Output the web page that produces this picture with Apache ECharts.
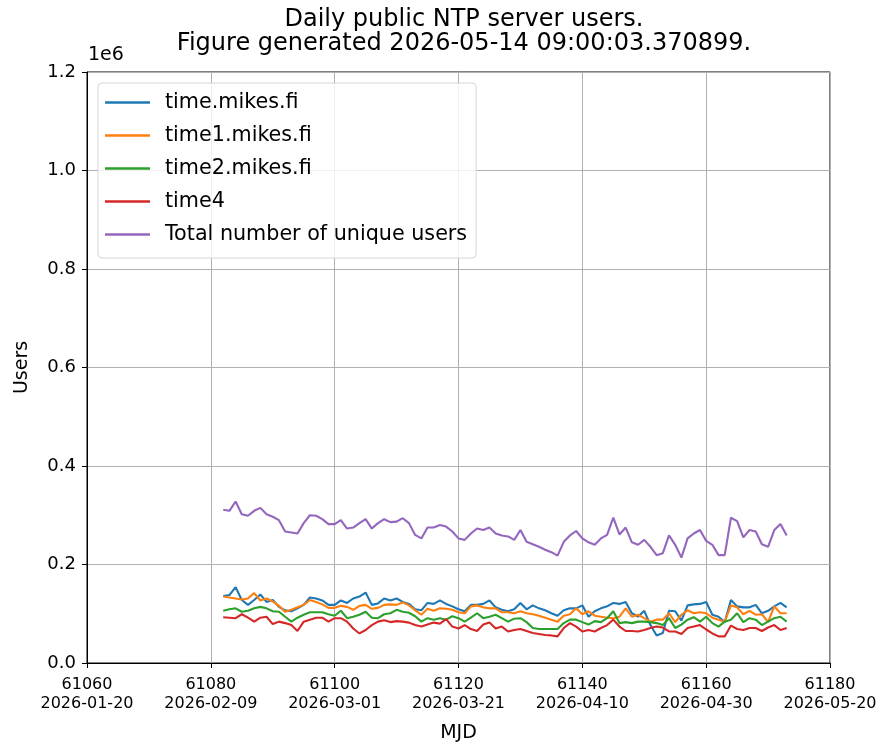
<!DOCTYPE html>
<html>
<head>
<meta charset="utf-8">
<script src="https://cdn.jsdelivr.net/npm/echarts@6/dist/echarts.min.js"></script>
<style>
  html, body { margin: 0; padding: 0; background: #fff; }
  #chart { width: 883px; height: 749px; }
</style>
</head>
<body>
<div id="chart"></div>
<script>
// first day of data (MJD), one value per day, in thousands of users
var startMjd = 61082;

var timeMikes = [
  136,138,154,128,118,128,139,124,128,114,107,105,111,118,133,
  131,127,118,118,127,122,131,135,143,118,121,131,127,131,124,120,
  109,107,122,120,127,120,115,109,105,118,118,120,127,113,108,
  105,109,122,109,117,111,107,101,96,107,111,111,117,94,105,
  111,115,122,120,124,101,94,106,77,56,61,106,105,86,117,119,
  120,124,98,94,83,128,115,113,113,118,101,106,115,122,113
];
var time1Mikes = [
  135,133,131,129,131,142,127,131,125,116,104,108,113,118,128,
  124,119,112,112,116,114,108,116,118,110,112,118,119,118,123,117,
  107,98,110,106,111,110,108,103,101,115,117,113,111,111,103,
  103,101,105,101,99,96,92,88,84,96,99,111,99,105,96,
  94,92,91,94,111,94,98,91,84,88,88,101,83,98,107,101,
  103,101,92,88,84,117,113,99,106,98,99,83,115,101,101
];
var time2Mikes = [
  106,109,111,104,106,111,114,111,105,104,94,84,92,98,103,
  103,103,99,96,106,91,94,98,104,92,91,99,101,108,104,102,
  95,84,91,88,91,88,95,91,84,92,101,91,94,98,91,
  84,90,91,83,71,69,69,69,69,81,88,88,83,78,85,
  83,91,105,81,83,81,84,84,83,81,77,91,71,78,88,93,
  84,94,81,74,84,88,101,83,91,88,77,84,91,94,84
];
var time4 = [
  93,92,91,99,92,84,92,94,79,84,81,77,65,84,88,
  92,92,84,91,91,84,70,60,67,77,84,87,83,85,84,82,
  77,74,78,82,80,89,74,70,77,69,65,78,82,70,74,
  64,67,69,65,61,59,57,56,54,71,81,74,64,67,64,
  71,77,88,74,65,65,64,67,71,74,72,64,64,59,71,74,
  77,68,60,54,54,76,69,67,71,71,65,72,77,67,71
];
var totalUnique = [
  311,309,328,302,299,309,315,302,297,290,267,265,263,284,300,
  299,292,282,282,290,273,275,284,292,273,284,292,286,287,294,284,
  260,253,275,275,280,277,267,253,250,263,273,270,275,263,259,
  257,250,270,246,241,236,230,225,218,246,259,268,253,245,240,
  253,260,295,261,275,245,240,250,236,219,223,259,240,214,253,263,
  270,248,240,219,219,295,288,255,270,267,241,236,270,282,259
];

var seriesNames = ['time.mikes.fi','time1.mikes.fi','time2.mikes.fi','time4','Total number of unique users'];
var seriesColors = ['#1f77b4','#ff7f0e','#2ca02c','#d62728','#9467bd'];
var xTickDates = {
  61060:'2026-01-20', 61080:'2026-02-09', 61100:'2026-03-01', 61120:'2026-03-21',
  61140:'2026-04-10', 61160:'2026-04-30', 61180:'2026-05-20'
};

var FONT = 'DejaVu Sans';

function toPoints(arr){
  return arr.map(function(v,i){ return [startMjd+i, v*1000]; });
}

var allData = [timeMikes,time1Mikes,time2Mikes,time4,totalUnique];
var series = [];
for(var i=0;i<allData.length;i++){
  series.push({
    name: seriesNames[i],
    type: 'line',
    data: toPoints(allData[i]),
    showSymbol: false,
    symbol: 'none',
    lineStyle: { width: 2.1, color: seriesColors[i] },
    itemStyle: { color: seriesColors[i] },
    animation: false
  });
}

var chart = echarts.init(document.getElementById('chart'));
chart.setOption({
  backgroundColor: '#fff',
  animation: false,
  title: {
    text: 'Daily public NTP server users.\nFigure generated 2026-05-14 09:00:03.370899.',
    left: 459,
    top: 3,
    textAlign: 'center',
    textStyle: { fontFamily: FONT, fontSize: 24, fontWeight: 'normal', color: '#000', lineHeight: 24 }
  },
  graphic: [{
    type: 'text',
    left: 88,
    top: 46,
    style: { text: '1e6', fontFamily: FONT, fontSize: 19, fill: '#000' }
  }],
  legend: {
    orient: 'vertical',
    left: 98,
    top: 83,
    data: seriesNames,
    icon: 'rect',
    itemWidth: 45,
    itemHeight: 2.5,
    itemGap: 12,
    padding: [9, 9, 13, 7],
    backgroundColor: 'rgba(255,255,255,0.8)',
    borderColor: '#d6d6d6',
    borderWidth: 1,
    borderRadius: 4,
    textStyle: { fontFamily: FONT, fontSize: 20.7, lineHeight: 21, color: '#000', padding: [0,0,0,10] }
  },
  grid: {
    left: 87, right: 53, top: 72, bottom: 86,
    show: true, borderColor: '#000', borderWidth: 1, backgroundColor: 'transparent'
  },
  xAxis: {
    type: 'value',
    min: 61060, max: 61180, interval: 20,
    name: 'MJD',
    nameLocation: 'middle',
    nameGap: 61,
    nameTextStyle: { fontFamily: FONT, fontSize: 19, color: '#000' },
    axisLine: { show: true, lineStyle: { color: '#000' } },
    axisTick: { show: true, length: 5, lineStyle: { color: '#000' } },
    splitLine: { show: true, lineStyle: { color: '#b0b0b0', width: 1 } },
    axisLabel: {
      fontFamily: FONT, fontSize: 16, color: '#000', lineHeight: 19, margin: 12,
      formatter: function(v){ return v + '\n' + (xTickDates[v] || ''); }
    }
  },
  yAxis: {
    type: 'value',
    min: 0, max: 1200000, interval: 200000,
    name: 'Users',
    nameLocation: 'middle',
    nameGap: 55,
    nameTextStyle: { fontFamily: FONT, fontSize: 19, color: '#000' },
    axisLine: { show: true, lineStyle: { color: '#000' } },
    axisTick: { show: true, length: 5, lineStyle: { color: '#000' } },
    splitLine: { show: true, lineStyle: { color: '#b0b0b0', width: 1 } },
    axisLabel: {
      fontFamily: FONT, fontSize: 18, color: '#000', margin: 11,
      formatter: function(v){ return (v/1e6).toFixed(1); }
    }
  },
  series: series
});
window.addEventListener('resize', chart.resize);
</script>
</body>
</html>
